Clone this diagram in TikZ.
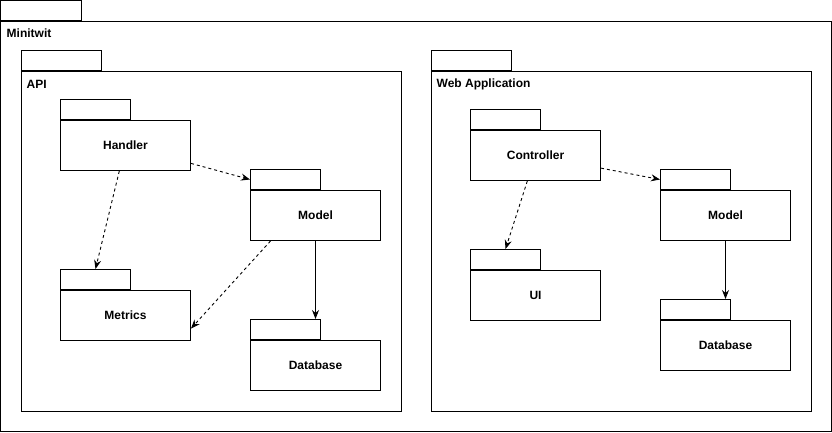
\documentclass[tikz,border=0pt]{standalone}
\usepackage{fontspec}
\setmainfont{Liberation Sans}
\usetikzlibrary{arrows.meta}
\tikzset{>={Stealth[length=9pt, width=7pt, inset=3pt]}}
\tikzset{
  pkgbody/.style = {draw, line width=1pt, minimum width=130pt, minimum height=50pt, inner sep=0pt, font=\bfseries\fontsize{12}{14}\selectfont},
  pkgtab/.style = {draw, line width=1pt, minimum width=70pt, minimum height=20pt, inner sep=0pt, anchor=south west},
  bigbody/.style = {draw, line width=1pt, inner sep=0pt, anchor=north west},
  bigtab/.style = {draw, line width=1pt, minimum width=80pt, minimum height=20pt, inner sep=0pt, anchor=south west},
  pkglabel/.style = {anchor=west, inner sep=0pt, font=\bfseries\fontsize{12}{14}\selectfont},
  dep/.style = {->, line width=0.9pt, dash pattern=on 3pt off 3pt},
  uses/.style = {->, line width=0.9pt}
}

\begin{document}
\begin{tikzpicture}[x=1pt, y=-1pt]
\useasboundingbox (-0.5,-0.5) rectangle (831.5,431.5);

% outer package
\node[bigbody, minimum width=830pt, minimum height=410pt] (minitwit) at (0,20) {};
\node[bigtab] (minitwittab) at (minitwit.north west) {};
\node[pkglabel] at ([xshift=6pt, yshift=-13pt]minitwit.north west) {Minitwit};

% API
\node[bigbody, minimum width=380pt, minimum height=340pt] (api) at (20,70) {};
\node[bigtab] (apitab) at (api.north west) {};
\node[pkglabel] at ([xshift=6pt, yshift=-14pt]api.north west) {API};

\node[pkgbody] (handler) at (125,145) {Handler};
\node[pkgtab] (handlertab) at (handler.north west) {};
\node[pkgbody] (apimodel) at (315,215) {Model};
\node[pkgtab] (apimodeltab) at (apimodel.north west) {};
\node[pkgbody] (metrics) at (125,315) {Metrics};
\node[pkgtab] (metricstab) at (metrics.north west) {};
\node[pkgbody] (apidb) at (315,365) {Database};
\node[pkgtab] (apidbtab) at (apidb.north west) {};

\draw[dep] (handler) -- (apimodeltab.west);
\draw[dep] (handler) -- (metricstab.north);
\draw[dep] ([xshift=-45pt]apimodel.south) -- ([yshift=-13pt]metrics.east);
\draw[uses] (apimodel.south) -- (apimodel.south |- apidbtab.north);

% Web Application
\node[bigbody, minimum width=380pt, minimum height=340pt] (web) at (430,70) {};
\node[bigtab] (webtab) at (web.north west) {};
\node[pkglabel] at ([xshift=6pt, yshift=-14pt]web.north west) {Web Application};

\node[pkgbody] (controller) at (535,155) {Controller};
\node[pkgtab] (controllertab) at (controller.north west) {};
\node[pkgbody] (webmodel) at (725,215) {Model};
\node[pkgtab] (webmodeltab) at (webmodel.north west) {};
\node[pkgbody] (ui) at (535,295) {UI};
\node[pkgtab] (uitab) at (ui.north west) {};
\node[pkgbody] (webdb) at (725,345) {Database};
\node[pkgtab] (webdbtab) at (webdb.north west) {};

\draw[dep] (controller) -- (webmodeltab.west);
\draw[dep] (controller) -- (uitab.north);
\draw[uses] (webmodel.south) -- (webmodel.south |- webdbtab.north);
\end{tikzpicture}
\end{document}
